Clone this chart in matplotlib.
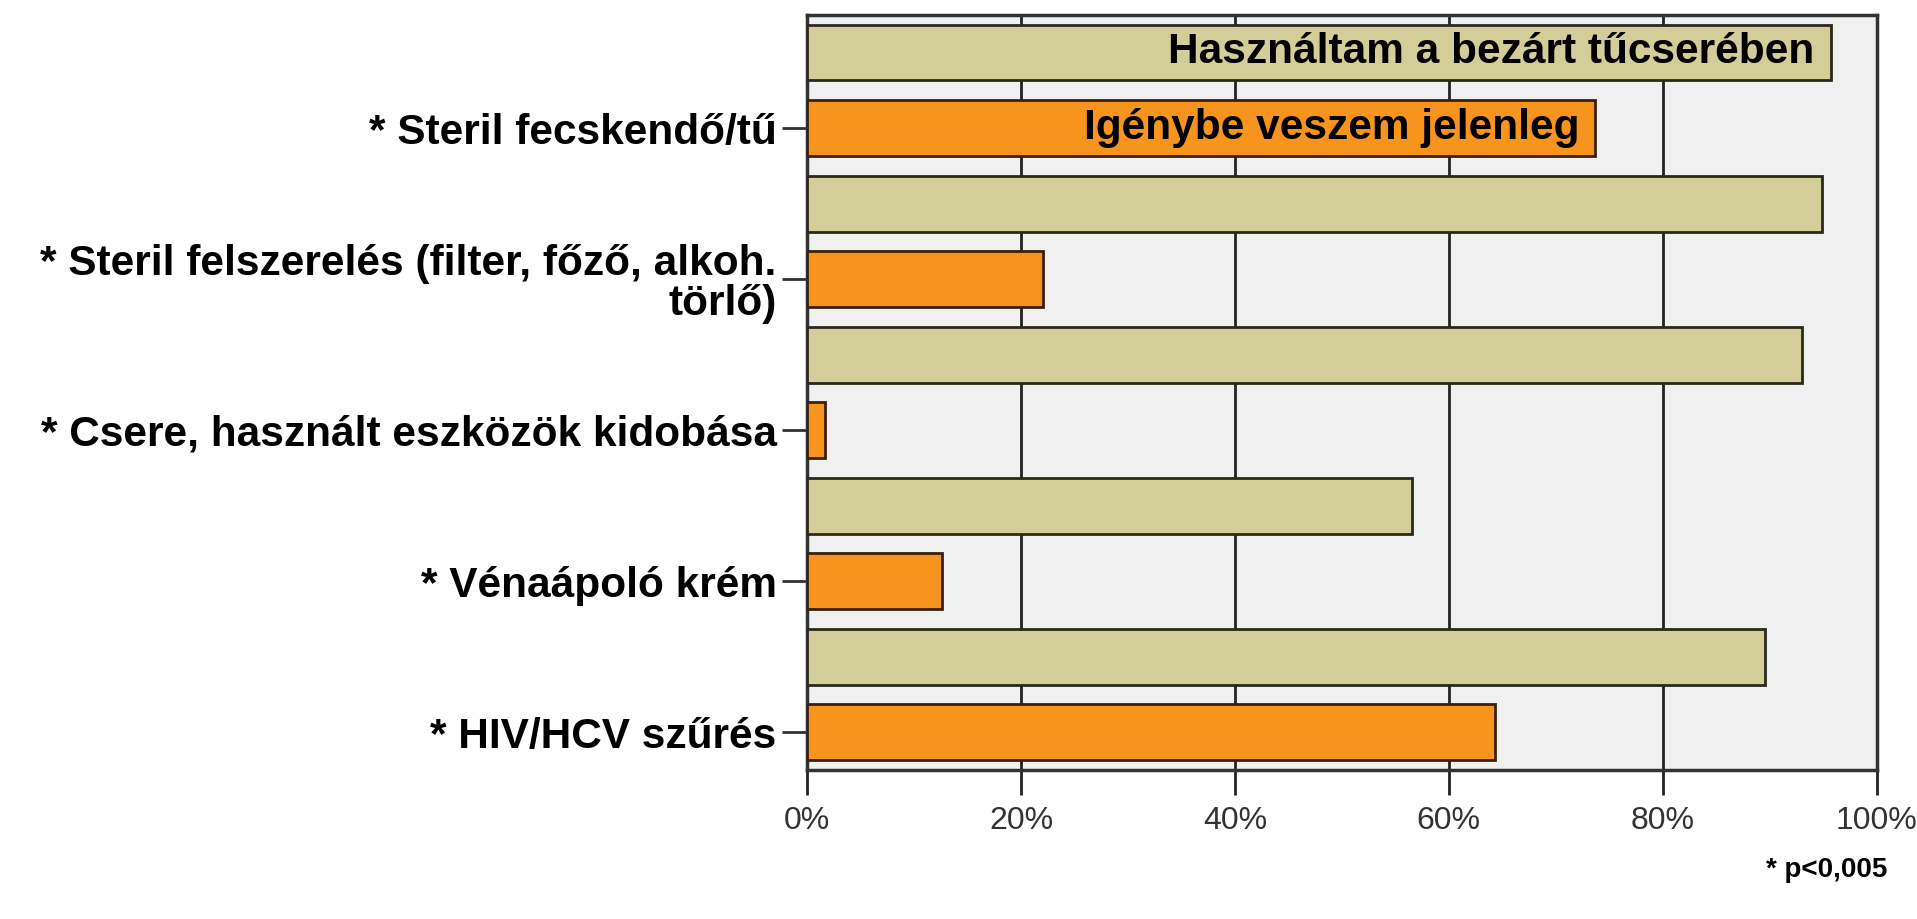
import matplotlib
matplotlib.use('Agg')
from matplotlib import pyplot as plt
from matplotlib.ticker import PercentFormatter
import numpy as np

plt.rcParams['font.family'] = ['Liberation Sans', 'DejaVu Sans']

# adatok
categories = ['* Steril fecskendő/tű',
              '* Steril felszerelés (filter, főző, alkoh.\ntörlő)',
              '* Csere, használt eszközök kidobása',
              '* Vénaápoló krém',
              '* HIV/HCV szűrés']
past_used = [95.7, 94.9, 93.0, 56.6, 89.6]     # Használtam a bezárt tűcserében
current_use = [73.7, 22.1, 1.7, 12.6, 64.3]    # Igénybe veszem jelenleg
x_ticks = [0, 20, 40, 60, 80, 100]

tan = '#D3CD99'
orange = '#F7941E'

fig = plt.figure(figsize=(19.17, 9.19), dpi=100)
ax = fig.add_axes([0.421, 0.162, 0.558, 0.822])
ax.set_facecolor('#F0F0F0')

n = len(categories)
pos_past = np.arange(n) * 2
pos_cur = pos_past + 1
ax.barh(pos_past, past_used, height=0.74, color=tan, edgecolor='#2a2a1a', linewidth=2, zorder=3)
ax.barh(pos_cur, current_use, height=0.74, color=orange, edgecolor='#3a200a', linewidth=2, zorder=3)

ax.set_ylim(2 * n - 0.5, -0.5)
ax.set_xlim(0, 100)
ax.set_yticks(pos_cur)
ax.set_yticklabels(categories, fontsize=30.5, fontweight='bold', linespacing=1.0)
ax.set_xticks(x_ticks)
ax.xaxis.set_major_formatter(PercentFormatter(decimals=0))
ax.tick_params(axis='x', labelsize=23, length=18, width=2, pad=8, color='#222222')
ax.tick_params(axis='y', length=18, width=2, color='#333333', pad=4)
for lab in ax.get_xticklabels():
    lab.set_color('#333333')

ax.grid(axis='x', color='#222222', linewidth=2, zorder=1)
ax.grid(axis='y', visible=False)
for s in ax.spines.values():
    s.set_color('#333333')
    s.set_linewidth(2.5)

# feliratok a sávokban
ax.text(past_used[0] - 1.5, pos_past[0], 'Használtam a bezárt tűcserében',
        ha='right', va='center', fontsize=30.5, fontweight='bold', zorder=4)
ax.text(current_use[0] - 1.5, pos_cur[0], 'Igénybe veszem jelenleg',
        ha='right', va='center', fontsize=30.5, fontweight='bold', zorder=4)

fig.text(0.953, 0.053, '* p<0,005', ha='center', va='center', fontsize=20, fontweight='bold')

plt.savefig('out.png', dpi=100)
plt.close()
